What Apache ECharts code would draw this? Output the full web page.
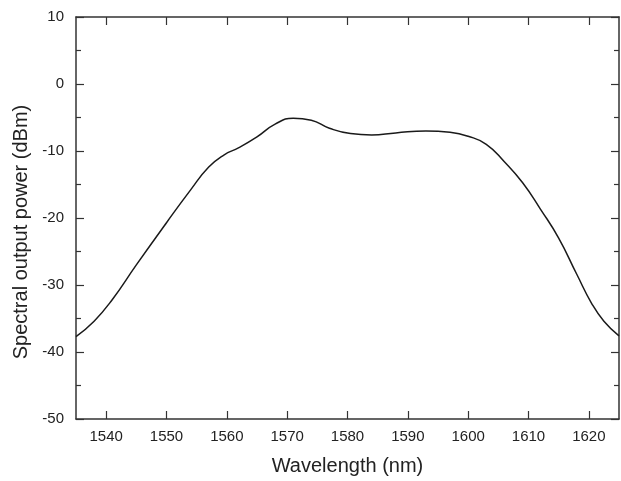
<!DOCTYPE html>
<html>
<head>
<meta charset="utf-8">
<script src="https://cdn.jsdelivr.net/npm/echarts@6/dist/echarts.min.js"></script>
<style>
  html, body { margin: 0; padding: 0; background: #fff; }
  #spectrum { width: 621px; height: 481px; }
</style>
</head>
<body>
<div id="spectrum"></div>
<script>
  // values
  let wavelength = [1535, 1538, 1541, 1545, 1550, 1554, 1557, 1559.5, 1562, 1565,
    1568, 1571, 1574, 1577, 1580.5, 1584, 1588, 1593, 1597, 1600,
    1603, 1606, 1609, 1612, 1615, 1618, 1620.5, 1622.5, 1625];
  let power = [-37.7, -35.4, -32.2, -27.0, -20.7, -15.8, -12.4, -10.6, -9.5, -7.9,
    -6.0, -5.1, -5.4, -6.6, -7.4, -7.6, -7.3, -7.0, -7.2, -7.8,
    -9.0, -11.6, -14.7, -18.7, -23.0, -28.4, -32.8, -35.4, -37.6];
  let xTicks = [1540, 1550, 1560, 1570, 1580, 1590, 1600, 1610, 1620];

  let chart = echarts.init(document.getElementById('spectrum'));

  let font = 'Liberation Sans, Arial, sans-serif';
  let axisLine = { show: true, onZero: false, lineStyle: { color: '#333', width: 1.5 } };
  let tickStyle = { color: '#333', width: 1.2 };

  let series_data = wavelength.map((w, i) => [w, power[i]]);

  let option = {
    animation: false,
    grid: { left: 76, right: 2, top: 17, bottom: 60 },
    xAxis: [
      {
        type: 'value', min: 1535, max: 1625, position: 'bottom',
        name: 'Wavelength (nm)', nameLocation: 'middle', nameGap: 37,
        nameTextStyle: { fontFamily: font, fontSize: 20, color: '#222' },
        axisLine: axisLine,
        axisTick: { show: true, inside: true, length: 8, customValues: xTicks, lineStyle: tickStyle },
        axisLabel: {
          fontFamily: font, fontSize: 15, color: '#222', margin: 10, customValues: xTicks,
          formatter: (v) => String(v)
        },
        splitLine: { show: false }
      },
      {
        type: 'value', min: 1535, max: 1625, position: 'top',
        axisLine: axisLine,
        axisTick: { show: true, inside: true, length: 8, customValues: xTicks, lineStyle: tickStyle },
        axisLabel: { show: false },
        splitLine: { show: false }
      }
    ],
    yAxis: [
      {
        type: 'value', min: -50, max: 10, interval: 10, position: 'left',
        name: 'Spectral output power (dBm)', nameLocation: 'middle', nameGap: 44,
        nameTextStyle: { fontFamily: font, fontSize: 20, color: '#222', padding: [0, 28, 0, 0] },
        axisLine: axisLine,
        axisTick: { show: true, inside: true, length: 8, lineStyle: tickStyle },
        minorTick: { show: true, splitNumber: 2, length: 5, lineStyle: tickStyle },
        axisLabel: { fontFamily: font, fontSize: 15, color: '#222', margin: 12 },
        splitLine: { show: false }
      },
      {
        type: 'value', min: -50, max: 10, interval: 10, position: 'right',
        axisLine: axisLine,
        axisTick: { show: true, inside: true, length: 8, lineStyle: tickStyle },
        minorTick: { show: true, splitNumber: 2, length: 5, lineStyle: tickStyle },
        axisLabel: { show: false },
        splitLine: { show: false }
      }
    ],
    series: [
      {
        type: 'line',
        data: series_data,
        smooth: 0.5,
        showSymbol: false,
        lineStyle: { color: '#1a1a1a', width: 1.5 }
      }
    ]
  };

  chart.setOption(option);
</script>
</body>
</html>
